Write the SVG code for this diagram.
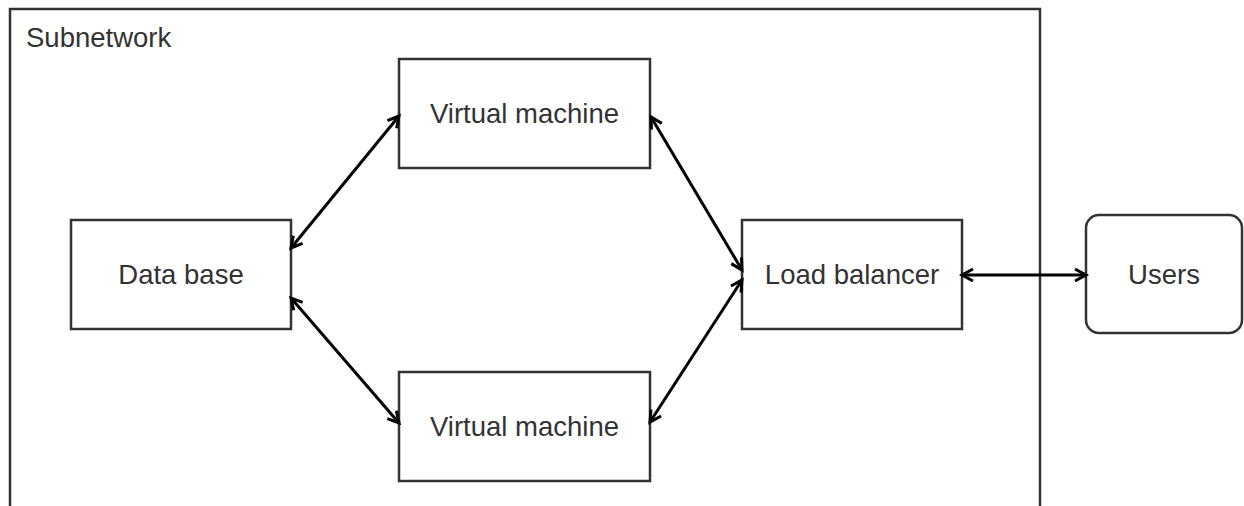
<svg xmlns="http://www.w3.org/2000/svg" width="1244" height="506" viewBox="0 0 1244 506">
  <style>
    .box { fill: #ffffff; stroke: #333333; stroke-width: 2.5; }
    .lbl { font-family: "Liberation Sans", Arial, sans-serif; font-size: 27.5px; fill: #333333; text-anchor: middle; }
    .conn { stroke: #000000; stroke-width: 3; fill: none; marker-start: url(#arr); marker-end: url(#arr); }
  </style>
  <defs>
    <marker id="arr" markerUnits="userSpaceOnUse" markerWidth="18" markerHeight="18" viewBox="-14 -9 18 18" refX="0" refY="0" orient="auto-start-reverse">
      <path d="M -11,-6 L 0,0 L -11,6" fill="none" stroke="#000000" stroke-width="3" stroke-linejoin="miter"/>
    </marker>
  </defs>
  <rect width="1244" height="506" fill="#ffffff"/>

  <g id="subnetwork">
    <rect x="10" y="9" width="1030" height="600" fill="none" stroke="#333333" stroke-width="2.5"/>
    <text x="26" y="47" font-family="Liberation Sans, Arial, sans-serif" font-size="27.5" fill="#333333">Subnetwork</text>
  </g>

  <g id="vm-top">
    <rect class="box" x="399" y="59" width="251" height="109"/>
    <text class="lbl" x="524.5" y="123">Virtual machine</text>
  </g>

  <g id="vm-bottom">
    <rect class="box" x="399" y="372" width="251" height="109"/>
    <text class="lbl" x="524.5" y="436">Virtual machine</text>
  </g>

  <g id="database">
    <rect class="box" x="71" y="220" width="220" height="109"/>
    <text class="lbl" x="181" y="284">Data base</text>
  </g>

  <g id="loadbalancer">
    <rect class="box" x="742" y="220" width="220" height="109"/>
    <text class="lbl" x="852" y="284">Load balancer</text>
  </g>

  <g id="users">
    <rect class="box" x="1086" y="215" width="156" height="118" rx="13" ry="13"/>
    <text class="lbl" x="1164" y="284">Users</text>
  </g>

  <g id="connectors">
    <line class="conn" x1="291" y1="248" x2="399" y2="116"/>
    <line class="conn" x1="651" y1="117" x2="742" y2="270"/>
    <line class="conn" x1="291" y1="298" x2="399" y2="423"/>
    <line class="conn" x1="650" y1="422" x2="742" y2="280"/>
    <line class="conn" x1="962" y1="275" x2="1086" y2="275"/>
  </g>
</svg>
